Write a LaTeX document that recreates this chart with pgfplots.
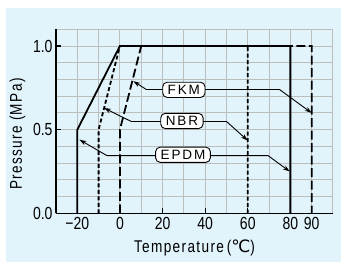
\documentclass[border=0pt]{standalone}
\usepackage{fontspec}
\setmainfont{Liberation Sans}[FakeStretch=0.8]
\newfontfamily\boxfont{Liberation Sans}[LetterSpace=14]
\newfontfamily\labfont{Liberation Sans}[FakeStretch=0.8,LetterSpace=8]
\newfontfamily\symfont{DejaVu Sans}
\usepackage{pgfplots}
\pgfplotsset{compat=1.18}
\usetikzlibrary{arrows.meta}
\definecolor{bgblue}{HTML}{E1F3FB}
\definecolor{gridgray}{HTML}{BDBDBD}
\tikzset{box/.style={draw=black, line width=0.9pt, fill=white, rounded corners=4.5pt, font=\boxfont\fontsize{13.5pt}{13.5pt}\selectfont, text height=9.6pt, text depth=0pt, inner ysep=2.8pt, inner xsep=5pt}}
\begin{document}
\begin{tikzpicture}
\fill[white] (-56pt,-52.7pt) rectangle (285pt,213.3pt);
\fill[bgblue] (-50pt,-48.7pt) rectangle (285pt,205.3pt);
\begin{axis}[
  at={(0,0)}, anchor=south west,
  scale only axis, width=277pt, height=184pt,
  xmin=-30, xmax=100, ymin=0, ymax=1.1,
  axis lines=left, axis line style={-, line width=1.6pt},
  xtick={-20,0,20,40,60,80,90},
  xticklabels={−20,0,20,40,60,80,90},
  ytick={0,0.5,1}, yticklabels={0.0,0.5,1.0},
  minor xtick={-30,-20,...,100},
  minor ytick={0.1,0.2,0.3,0.4,0.5,0.6,0.7,0.8,0.9,1.0,1.1},
  grid=minor, minor grid style={gridgray, line width=1pt},
  minor tick length=0pt, major tick length=5pt,
  tick align=inside, tick style={black, line width=1.2pt},
  tick label style={font=\fontsize{17.5pt}{17.5pt}\selectfont},
  xlabel={\labfont Temperature\,({\symfont ℃})},
  xlabel style={font=\fontsize{17pt}{17pt}\selectfont, at={(axis description cs:0.5,0)}, anchor=north, inner sep=0pt, yshift=-26.5pt},
  ylabel={\labfont Pressure (MPa)},
  ylabel style={font=\fontsize{17pt}{17pt}\selectfont, at={(axis description cs:0,0.43)}, anchor=center, inner sep=0pt, yshift=38.5pt},
  clip=false,
]
\addplot[black, line width=1.8pt, dash pattern=on 4pt off 2.5pt] coordinates {(-10,0) (-10,0.5) (0,1) (60,1) (60,0)};
\addplot[black, line width=1.8pt, dash pattern=on 9pt off 3.5pt] coordinates {(0,0) (0,0.5) (10,1) (90,1) (90,0)};
\addplot[black, line width=1.8pt] coordinates {(-20,0) (-20,0.5) (0,1) (80,1) (80,0)};
% leaders
\addplot[black, line width=0.9pt, -{Stealth[length=7pt,width=4.5pt]}] coordinates {(30,0.74) (12.4,0.74) (6.3,0.79)};
\addplot[black, line width=0.9pt, -{Stealth[length=7pt,width=4.5pt]}] coordinates {(30,0.74) (74.9,0.74) (90,0.6)};
\addplot[black, line width=0.9pt, -{Stealth[length=7pt,width=4.5pt]}] coordinates {(29.1,0.549) (5.3,0.549) (-7.5,0.63)};
\addplot[black, line width=0.9pt, -{Stealth[length=7pt,width=4.5pt]}] coordinates {(29.1,0.549) (50,0.549) (60,0.435)};
\addplot[black, line width=0.9pt, -{Stealth[length=7pt,width=4.5pt]}] coordinates {(29.6,0.345) (-6.1,0.345) (-19,0.44)};
\addplot[black, line width=0.9pt, -{Stealth[length=7pt,width=4.5pt]}] coordinates {(29.6,0.345) (69.5,0.345) (79.7,0.25)};
\node[box] at (axis cs:30,0.738) {FKM};
\node[box] at (axis cs:29.1,0.552) {NBR};
\node[box] at (axis cs:29.6,0.35) {EPDM};
\end{axis}
\end{tikzpicture}
\end{document}
